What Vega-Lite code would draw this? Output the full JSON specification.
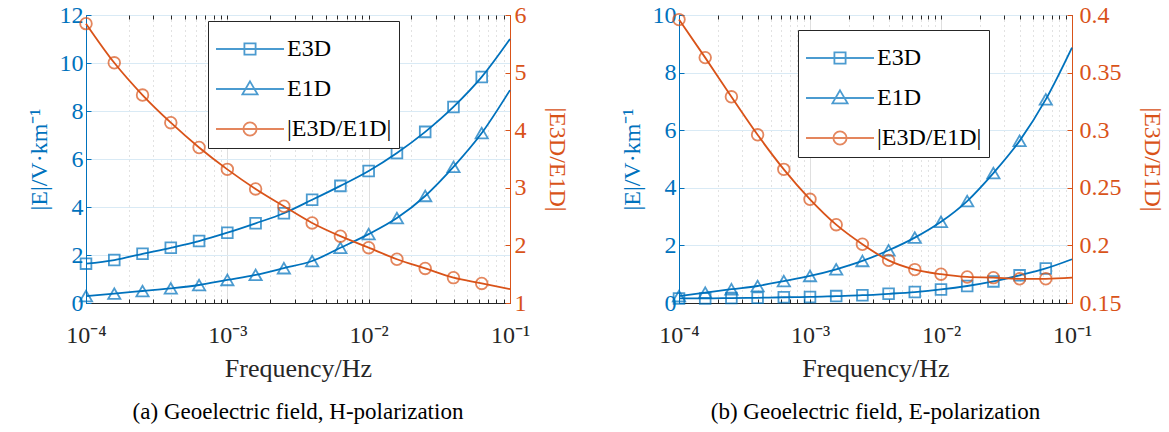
{
  "$schema": "https://vega.github.io/schema/vega-lite/v6.json",
  "background": "white",
  "padding": {"left": 26, "top": 2, "right": 5, "bottom": 5},
  "config": {
    "font": "Liberation Serif",
    "view": {"stroke": "#262626", "strokeWidth": 1},
    "axis": {"labelFont": "Liberation Serif", "titleFont": "Liberation Serif", "labelFontSize": 24, "titleFontSize": 24, "titleFontWeight": "normal"},
    "legend": {"labelFont": "Liberation Serif"},
    "title": {"font": "Liberation Serif", "fontSize": 23, "fontWeight": "normal", "color": "black"}
  },
  "data": {"values": [
    {"p":"a","s":"E3D","f":0.0001,"v":1.64},{"p":"a","s":"E3D","f":0.00015849,"v":1.79},{"p":"a","s":"E3D","f":0.00025119,"v":2.05},{"p":"a","s":"E3D","f":0.00039811,"v":2.30},{"p":"a","s":"E3D","f":0.00063096,"v":2.58},{"p":"a","s":"E3D","f":0.001,"v":2.93},{"p":"a","s":"E3D","f":0.0015849,"v":3.32},{"p":"a","s":"E3D","f":0.0025119,"v":3.74},{"p":"a","s":"E3D","f":0.0039811,"v":4.30},{"p":"a","s":"E3D","f":0.0063096,"v":4.88},{"p":"a","s":"E3D","f":0.01,"v":5.50},{"p":"a","s":"E3D","f":0.015849,"v":6.25},{"p":"a","s":"E3D","f":0.025119,"v":7.13},{"p":"a","s":"E3D","f":0.039811,"v":8.17},{"p":"a","s":"E3D","f":0.063096,"v":9.42},{"p":"a","s":"E3D","f":0.1,"v":11.0},
    {"p":"a","s":"E1D","f":0.0001,"v":0.29},{"p":"a","s":"E1D","f":0.00015849,"v":0.39},{"p":"a","s":"E1D","f":0.00025119,"v":0.50},{"p":"a","s":"E1D","f":0.00039811,"v":0.61},{"p":"a","s":"E1D","f":0.00063096,"v":0.75},{"p":"a","s":"E1D","f":0.001,"v":0.96},{"p":"a","s":"E1D","f":0.0015849,"v":1.17},{"p":"a","s":"E1D","f":0.0025119,"v":1.45},{"p":"a","s":"E1D","f":0.0039811,"v":1.75},{"p":"a","s":"E1D","f":0.0063096,"v":2.30},{"p":"a","s":"E1D","f":0.01,"v":2.87},{"p":"a","s":"E1D","f":0.015849,"v":3.54},{"p":"a","s":"E1D","f":0.025119,"v":4.46},{"p":"a","s":"E1D","f":0.039811,"v":5.67},{"p":"a","s":"E1D","f":0.063096,"v":7.08},{"p":"a","s":"E1D","f":0.1,"v":8.87},
    {"p":"a","s":"|E3D/E1D|","f":0.0001,"v":5.85},{"p":"a","s":"|E3D/E1D|","f":0.00015849,"v":5.17},{"p":"a","s":"|E3D/E1D|","f":0.00025119,"v":4.61},{"p":"a","s":"|E3D/E1D|","f":0.00039811,"v":4.13},{"p":"a","s":"|E3D/E1D|","f":0.00063096,"v":3.70},{"p":"a","s":"|E3D/E1D|","f":0.001,"v":3.32},{"p":"a","s":"|E3D/E1D|","f":0.0015849,"v":2.98},{"p":"a","s":"|E3D/E1D|","f":0.0025119,"v":2.68},{"p":"a","s":"|E3D/E1D|","f":0.0039811,"v":2.39},{"p":"a","s":"|E3D/E1D|","f":0.0063096,"v":2.16},{"p":"a","s":"|E3D/E1D|","f":0.01,"v":1.96},{"p":"a","s":"|E3D/E1D|","f":0.015849,"v":1.76},{"p":"a","s":"|E3D/E1D|","f":0.025119,"v":1.60},{"p":"a","s":"|E3D/E1D|","f":0.039811,"v":1.44},{"p":"a","s":"|E3D/E1D|","f":0.063096,"v":1.34},{"p":"a","s":"|E3D/E1D|","f":0.1,"v":1.24},
    {"p":"b","s":"E3D","f":0.0001,"v":0.16},{"p":"b","s":"E3D","f":0.00015849,"v":0.16},{"p":"b","s":"E3D","f":0.00025119,"v":0.17},{"p":"b","s":"E3D","f":0.00039811,"v":0.18},{"p":"b","s":"E3D","f":0.00063096,"v":0.20},{"p":"b","s":"E3D","f":0.001,"v":0.21},{"p":"b","s":"E3D","f":0.0015849,"v":0.24},{"p":"b","s":"E3D","f":0.0025119,"v":0.27},{"p":"b","s":"E3D","f":0.0039811,"v":0.32},{"p":"b","s":"E3D","f":0.0063096,"v":0.38},{"p":"b","s":"E3D","f":0.01,"v":0.47},{"p":"b","s":"E3D","f":0.015849,"v":0.59},{"p":"b","s":"E3D","f":0.025119,"v":0.75},{"p":"b","s":"E3D","f":0.039811,"v":0.96},{"p":"b","s":"E3D","f":0.063096,"v":1.20},{"p":"b","s":"E3D","f":0.1,"v":1.52},
    {"p":"b","s":"E1D","f":0.0001,"v":0.24},{"p":"b","s":"E1D","f":0.00015849,"v":0.36},{"p":"b","s":"E1D","f":0.00025119,"v":0.48},{"p":"b","s":"E1D","f":0.00039811,"v":0.59},{"p":"b","s":"E1D","f":0.00063096,"v":0.76},{"p":"b","s":"E1D","f":0.001,"v":0.94},{"p":"b","s":"E1D","f":0.0015849,"v":1.17},{"p":"b","s":"E1D","f":0.0025119,"v":1.46},{"p":"b","s":"E1D","f":0.0039811,"v":1.83},{"p":"b","s":"E1D","f":0.0063096,"v":2.27},{"p":"b","s":"E1D","f":0.01,"v":2.82},{"p":"b","s":"E1D","f":0.015849,"v":3.54},{"p":"b","s":"E1D","f":0.025119,"v":4.51},{"p":"b","s":"E1D","f":0.039811,"v":5.63},{"p":"b","s":"E1D","f":0.063096,"v":7.07},{"p":"b","s":"E1D","f":0.1,"v":8.87},
    {"p":"b","s":"|E3D/E1D|","f":0.0001,"v":0.396},{"p":"b","s":"|E3D/E1D|","f":0.00015849,"v":0.363},{"p":"b","s":"|E3D/E1D|","f":0.00025119,"v":0.329},{"p":"b","s":"|E3D/E1D|","f":0.00039811,"v":0.296},{"p":"b","s":"|E3D/E1D|","f":0.00063096,"v":0.266},{"p":"b","s":"|E3D/E1D|","f":0.001,"v":0.240},{"p":"b","s":"|E3D/E1D|","f":0.0015849,"v":0.218},{"p":"b","s":"|E3D/E1D|","f":0.0025119,"v":0.201},{"p":"b","s":"|E3D/E1D|","f":0.0039811,"v":0.187},{"p":"b","s":"|E3D/E1D|","f":0.0063096,"v":0.179},{"p":"b","s":"|E3D/E1D|","f":0.01,"v":0.175},{"p":"b","s":"|E3D/E1D|","f":0.015849,"v":0.1726},{"p":"b","s":"|E3D/E1D|","f":0.025119,"v":0.172},{"p":"b","s":"|E3D/E1D|","f":0.039811,"v":0.171},{"p":"b","s":"|E3D/E1D|","f":0.063096,"v":0.171},{"p":"b","s":"|E3D/E1D|","f":0.1,"v":0.172}
  ]},
  "spacing": 50,
  "resolve": {"scale": {"color": "independent"}, "legend": {"color": "independent"}},
  "hconcat": [
    {
      "width": 424, "height": 288,
      "title": {"text": "(a) Geoelectric field, H-polarization", "orient": "bottom", "offset": 20},
      "transform": [{"filter": "datum.p === 'a'"}],
      "layer": [
        {
          "transform": [{"filter": "datum.s !== '|E3D/E1D|'"}],
          "layer": [
            {
              "mark": {"type": "line", "color": "#0072BD", "strokeWidth": 1.8, "interpolate": "monotone"},
              "encoding": {
                "x": {"field": "f", "type": "quantitative", "scale": {"type": "log", "domain": [0.0001, 0.1]},
                  "axis": {"orient": "bottom", "title": "Frequency/Hz", "titleFontSize": 26, "titleColor": "#262626", "titlePadding": 8, "values": [0.0001,0.0002,0.0003,0.0004,0.0005,0.0006,0.0007,0.0008,0.0009,0.001,0.002,0.003,0.004,0.005,0.006,0.007,0.008,0.009,0.01,0.02,0.03,0.04,0.05,0.06,0.07,0.08,0.09,0.1],
                    "labelExpr": "datum.value == 0.0001 ? '10⁻⁴' : datum.value == 0.001 ? '10⁻³' : datum.value == 0.01 ? '10⁻²' : datum.value == 0.1 ? '10⁻¹' : ''",
                    "labelColor": "#262626", "labelPadding": 24, "labelFlush": false, "labelOverlap": false,
                    "domainColor": "#262626", "tickColor": "#262626", "tickSize": -4,
                    "grid": true,
                    "gridColor": {"condition": {"test": "datum.value == 0.0001 || datum.value == 0.001 || datum.value == 0.01 || datum.value == 0.1", "value": "#dfdfdf"}, "value": "#c4c4c4"},
                    "gridDash": {"condition": {"test": "datum.value == 0.0001 || datum.value == 0.001 || datum.value == 0.01 || datum.value == 0.1", "value": []}, "value": [1, 4]}}},
                "y": {"field": "v", "type": "quantitative", "scale": {"domain": [0, 12], "nice": false},
                  "axis": {"orient": "left", "title": "|E|/V·km⁻¹", "values": [0,2,4,6,8,10,12], "labelColor": "#0072BD", "titleColor": "#0072BD", "domainColor": "#0072BD", "tickColor": "#0072BD", "tickSize": -5, "labelPadding": 8, "titlePadding": 8, "grid": true, "gridColor": "#d9eaf5"}},
                "detail": {"field": "s"}
              }
            },
            {
              "transform": [{"filter": "datum.s === 'E3D' && datum.f < 0.09"}],
              "mark": {"type": "point", "filled": false, "size": 115, "strokeWidth": 1.8, "shape": "square"},
              "encoding": {
                "x": {"field": "f", "type": "quantitative", "scale": {"type": "log", "domain": [0.0001, 0.1]}},
                "y": {"field": "v", "type": "quantitative", "scale": {"domain": [0, 12], "nice": false}},
                "color": {"field": "s", "type": "nominal", "scale": {"domain": ["E3D", "E1D", "|E3D/E1D|"], "range": ["#0072BD", "#0072BD", "#D95319"]},
                  "legend": {"title": null, "orient": "none", "legendX": 122, "legendY": 6, "fillColor": "white", "strokeColor": "#262626", "padding": 7, "symbolSize": 1600, "rowPadding": 7, "labelFontSize": 24, "labelColor": "black", "labelOffset": 30, "symbolStrokeWidth": 1.8, "symbolFillColor": "transparent",
                    "encoding": {"symbols": {"shape": {"condition": [{"test": "datum.value === 'E3D'", "value": "M-1,0H2.4M0.42,-0.28H0.98V0.28H0.42Z"}, {"test": "datum.value === 'E1D'", "value": "M-1,0H2.4M0.7,-0.38L1.08,0.27L0.32,0.27Z"}], "value": "M-1,0H2.4M0.37,0A0.33,0.33,0,1,1,1.03,0A0.33,0.33,0,1,1,0.37,0"}}}}}
              }
            },
            {
              "transform": [{"filter": "datum.s === 'E1D' && datum.f < 0.09"}],
              "mark": {"type": "point", "filled": false, "size": 150, "strokeWidth": 1.8, "shape": "triangle-up", "color": "#0072BD"},
              "encoding": {
                "x": {"field": "f", "type": "quantitative", "scale": {"type": "log", "domain": [0.0001, 0.1]}},
                "y": {"field": "v", "type": "quantitative", "scale": {"domain": [0, 12], "nice": false}}
              }
            }
          ]
        },
        {
          "transform": [{"filter": "datum.s === '|E3D/E1D|'"}],
          "layer": [
            {
              "mark": {"type": "line", "color": "#D95319", "strokeWidth": 1.8, "interpolate": "monotone"},
              "encoding": {
                "x": {"field": "f", "type": "quantitative", "scale": {"type": "log", "domain": [0.0001, 0.1]},
                  "axis": {"orient": "top", "title": null, "labels": false, "grid": false, "domain": false, "tickColor": "#262626", "tickSize": -4, "values": [0.0001,0.0002,0.0003,0.0004,0.0005,0.0006,0.0007,0.0008,0.0009,0.001,0.002,0.003,0.004,0.005,0.006,0.007,0.008,0.009,0.01,0.02,0.03,0.04,0.05,0.06,0.07,0.08,0.09,0.1]}},
                "y": {"field": "v", "type": "quantitative", "scale": {"domain": [1, 6], "zero": false, "nice": false},
                  "axis": {"orient": "right", "title": "|E3D/E1D|", "format": "d", "values": [1,2,3,4,5,6], "labelColor": "#D95319", "titleColor": "#D95319", "domainColor": "#D95319", "tickColor": "#D95319", "tickSize": -5, "labelPadding": 9, "titlePadding": 18, "grid": false}}
              }
            },
            {
              "transform": [{"filter": "datum.f < 0.09"}],
              "mark": {"type": "point", "filled": false, "size": 135, "strokeWidth": 1.8, "shape": "circle", "color": "#D95319"},
              "encoding": {
                "x": {"field": "f", "type": "quantitative", "scale": {"type": "log", "domain": [0.0001, 0.1]}},
                "y": {"field": "v", "type": "quantitative", "scale": {"domain": [1, 6], "zero": false, "nice": false}}
              }
            }
          ]
        }
      ],
      "resolve": {"scale": {"y": "independent"}, "axis": {"x": "independent"}}
    },
    {
      "width": 393, "height": 288,
      "title": {"text": "(b) Geoelectric field, E-polarization", "orient": "bottom", "offset": 20},
      "transform": [{"filter": "datum.p === 'b'"}],
      "layer": [
        {
          "transform": [{"filter": "datum.s !== '|E3D/E1D|'"}],
          "layer": [
            {
              "mark": {"type": "line", "color": "#0072BD", "strokeWidth": 1.8, "interpolate": "monotone"},
              "encoding": {
                "x": {"field": "f", "type": "quantitative", "scale": {"type": "log", "domain": [0.0001, 0.1]},
                  "axis": {"orient": "bottom", "title": "Frequency/Hz", "titleFontSize": 26, "titleColor": "#262626", "titlePadding": 8, "values": [0.0001,0.0002,0.0003,0.0004,0.0005,0.0006,0.0007,0.0008,0.0009,0.001,0.002,0.003,0.004,0.005,0.006,0.007,0.008,0.009,0.01,0.02,0.03,0.04,0.05,0.06,0.07,0.08,0.09,0.1],
                    "labelExpr": "datum.value == 0.0001 ? '10⁻⁴' : datum.value == 0.001 ? '10⁻³' : datum.value == 0.01 ? '10⁻²' : datum.value == 0.1 ? '10⁻¹' : ''",
                    "labelColor": "#262626", "labelPadding": 24, "labelFlush": false, "labelOverlap": false,
                    "domainColor": "#262626", "tickColor": "#262626", "tickSize": -4,
                    "grid": true,
                    "gridColor": {"condition": {"test": "datum.value == 0.0001 || datum.value == 0.001 || datum.value == 0.01 || datum.value == 0.1", "value": "#dfdfdf"}, "value": "#c4c4c4"},
                    "gridDash": {"condition": {"test": "datum.value == 0.0001 || datum.value == 0.001 || datum.value == 0.01 || datum.value == 0.1", "value": []}, "value": [1, 4]}}},
                "y": {"field": "v", "type": "quantitative", "scale": {"domain": [0, 10], "nice": false},
                  "axis": {"orient": "left", "title": "|E|/V·km⁻¹", "values": [0,2,4,6,8,10], "labelColor": "#0072BD", "titleColor": "#0072BD", "domainColor": "#0072BD", "tickColor": "#0072BD", "tickSize": -5, "labelPadding": 8, "titlePadding": 8, "grid": true, "gridColor": "#d9eaf5"}},
                "detail": {"field": "s"}
              }
            },
            {
              "transform": [{"filter": "datum.s === 'E3D' && datum.f < 0.09"}],
              "mark": {"type": "point", "filled": false, "size": 115, "strokeWidth": 1.8, "shape": "square"},
              "encoding": {
                "x": {"field": "f", "type": "quantitative", "scale": {"type": "log", "domain": [0.0001, 0.1]}},
                "y": {"field": "v", "type": "quantitative", "scale": {"domain": [0, 10], "nice": false}},
                "color": {"field": "s", "type": "nominal", "scale": {"domain": ["E3D", "E1D", "|E3D/E1D|"], "range": ["#0072BD", "#0072BD", "#D95319"]},
                  "legend": {"title": null, "orient": "none", "legendX": 119, "legendY": 15, "fillColor": "white", "strokeColor": "#262626", "padding": 7, "symbolSize": 1600, "rowPadding": 7, "labelFontSize": 24, "labelColor": "black", "labelOffset": 30, "symbolStrokeWidth": 1.8, "symbolFillColor": "transparent",
                    "encoding": {"symbols": {"shape": {"condition": [{"test": "datum.value === 'E3D'", "value": "M-1,0H2.4M0.42,-0.28H0.98V0.28H0.42Z"}, {"test": "datum.value === 'E1D'", "value": "M-1,0H2.4M0.7,-0.38L1.08,0.27L0.32,0.27Z"}], "value": "M-1,0H2.4M0.37,0A0.33,0.33,0,1,1,1.03,0A0.33,0.33,0,1,1,0.37,0"}}}}}
              }
            },
            {
              "transform": [{"filter": "datum.s === 'E1D' && datum.f < 0.09"}],
              "mark": {"type": "point", "filled": false, "size": 150, "strokeWidth": 1.8, "shape": "triangle-up", "color": "#0072BD"},
              "encoding": {
                "x": {"field": "f", "type": "quantitative", "scale": {"type": "log", "domain": [0.0001, 0.1]}},
                "y": {"field": "v", "type": "quantitative", "scale": {"domain": [0, 10], "nice": false}}
              }
            }
          ]
        },
        {
          "transform": [{"filter": "datum.s === '|E3D/E1D|'"}],
          "layer": [
            {
              "mark": {"type": "line", "color": "#D95319", "strokeWidth": 1.8, "interpolate": "monotone"},
              "encoding": {
                "x": {"field": "f", "type": "quantitative", "scale": {"type": "log", "domain": [0.0001, 0.1]},
                  "axis": {"orient": "top", "title": null, "labels": false, "grid": false, "domain": false, "tickColor": "#262626", "tickSize": -4, "values": [0.0001,0.0002,0.0003,0.0004,0.0005,0.0006,0.0007,0.0008,0.0009,0.001,0.002,0.003,0.004,0.005,0.006,0.007,0.008,0.009,0.01,0.02,0.03,0.04,0.05,0.06,0.07,0.08,0.09,0.1]}},
                "y": {"field": "v", "type": "quantitative", "scale": {"domain": [0.15, 0.4], "zero": false, "nice": false},
                  "axis": {"orient": "right", "title": "|E3D/E1D|", "format": ".2~f", "values": [0.15,0.2,0.25,0.3,0.35,0.4], "labelColor": "#D95319", "titleColor": "#D95319", "domainColor": "#D95319", "tickColor": "#D95319", "tickSize": -5, "labelPadding": 12, "titlePadding": 18, "grid": false}}
              }
            },
            {
              "transform": [{"filter": "datum.f < 0.09"}],
              "mark": {"type": "point", "filled": false, "size": 135, "strokeWidth": 1.8, "shape": "circle", "color": "#D95319"},
              "encoding": {
                "x": {"field": "f", "type": "quantitative", "scale": {"type": "log", "domain": [0.0001, 0.1]}},
                "y": {"field": "v", "type": "quantitative", "scale": {"domain": [0.15, 0.4], "zero": false, "nice": false}}
              }
            }
          ]
        }
      ],
      "resolve": {"scale": {"y": "independent"}, "axis": {"x": "independent"}}
    }
  ]
}
